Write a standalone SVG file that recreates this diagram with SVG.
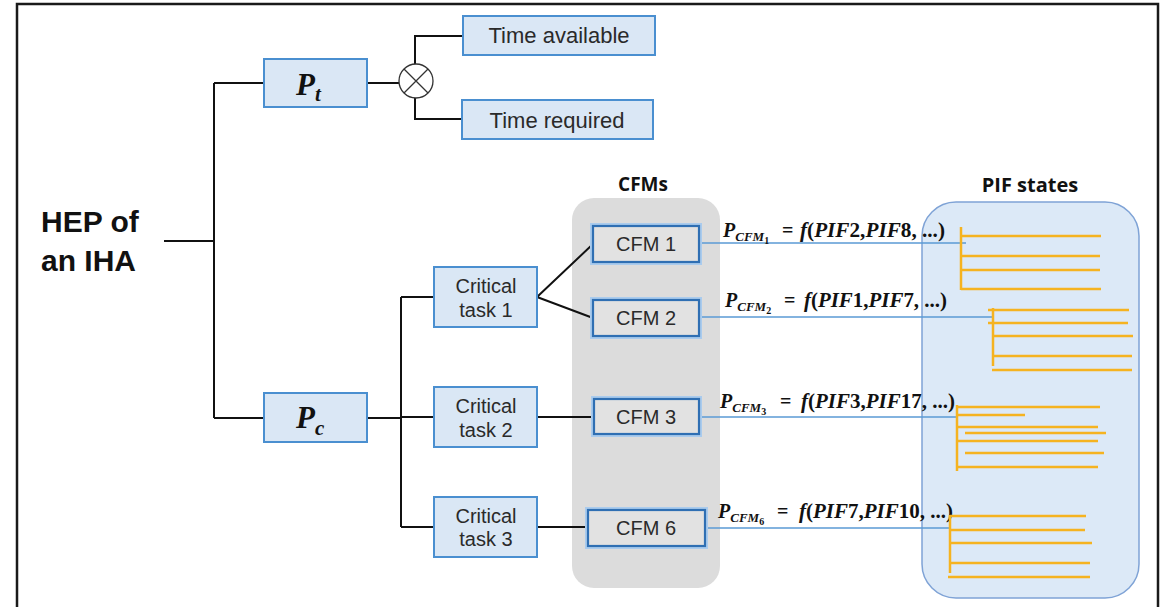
<svg xmlns="http://www.w3.org/2000/svg" width="1170" height="607" viewBox="0 0 1170 607">
  <style>
    .frame { fill: none; stroke: #1a1a1a; stroke-width: 2.5; }
    .wire { fill: none; stroke: #111; stroke-width: 2; }
    .blue-link { fill: none; stroke: #5b9bd5; stroke-width: 1.6; }
    .pif { fill: none; stroke: #f5b320; stroke-width: 2.5; }
    .box { fill: #dae7f5; stroke: #4a8fd0; stroke-width: 2; }
    .cfm-glow { fill: none; stroke: #aacbed; stroke-width: 6; }
    .cfm { fill: #e2e2e2; stroke: #2f6fb3; stroke-width: 2.2; }
    .lbl { font-family: "Liberation Sans", Arial, sans-serif; fill: #2a2a2a; text-anchor: middle; }
    .head { font-family: "Open Sans", "Liberation Sans", sans-serif; font-weight: 700; fill: #111; text-anchor: middle; }
    .math { font-family: "Liberation Serif", "DejaVu Serif", serif; font-weight: 700; fill: #111; }
    .it { font-style: italic; }
  </style>

  <rect width="1170" height="607" fill="#ffffff"/>
  <path class="frame" d="M17,612 V4 H1158 V612"/>

  <!-- panels -->
  <g id="cfm-panel">
    <rect x="572" y="198" width="148" height="390" rx="22" fill="#dcdcdc"/>
    <text class="head" x="643" y="191" font-size="19">CFMs</text>
  </g>
  <g id="pif-panel">
    <rect x="922" y="202" width="217" height="396" rx="34" fill="#dce9f7" stroke="#7fa3d6" stroke-width="1.5"/>
    <text class="head" x="1030" y="192" font-size="20">PIF states</text>
  </g>

  <!-- connectors -->
  <g id="connectors">
    <path class="wire" d="M164,241 H214 M214,83 V418 M214,83 H264 M214,418 H264"/>
    <path class="wire" d="M367,83 H399"/>
    <path class="wire" d="M415,64 V36 H463 M415,98 V119 H462"/>
    <path class="wire" d="M367,418 H401 M401,297 V527 M401,297 H434 M401,417 H434 M401,527 H434"/>
    <path class="wire" d="M537,297 L593,244 M537,297 L593,318 M537,417 H594 M537,527 H588"/>
    <path class="blue-link" d="M699,243 H966 M699,317 H992 M699,417 H957 M705,528 H950"/>
  </g>

  <!-- HEP root label -->
  <g id="hep">
    <text x="41" y="232" font-family="Liberation Sans, Arial, sans-serif" font-weight="700" font-size="30" fill="#111">HEP of</text>
    <text x="41" y="271" font-family="Liberation Sans, Arial, sans-serif" font-weight="700" font-size="30" fill="#111">an IHA</text>
  </g>

  <g id="p-t">
    <rect class="box" x="264" y="59" width="103" height="48"/>
    <text class="math it" x="296" y="95" font-size="31">P<tspan font-size="21" y="101">t</tspan></text>
  </g>

  <g id="multiply">
    <circle cx="416" cy="81" r="17" fill="#fff" stroke="#333" stroke-width="1.3"/>
    <path d="M404,69 L428,93 M428,69 L404,93" stroke="#333" stroke-width="1.3"/>
  </g>

  <g id="time-available">
    <rect class="box" x="463" y="16" width="192" height="39"/>
    <text class="lbl" x="559" y="43" font-size="22">Time available</text>
  </g>
  <g id="time-required">
    <rect class="box" x="462" y="100" width="191" height="39"/>
    <text class="lbl" x="557" y="128" font-size="22">Time required</text>
  </g>

  <g id="p-c">
    <rect class="box" x="264" y="393" width="103" height="49"/>
    <text class="math it" x="296" y="428" font-size="31">P<tspan font-size="21" y="435">c</tspan></text>
  </g>

  <g id="task-1">
    <rect class="box" x="434" y="267" width="103" height="60"/>
    <text class="lbl" x="486" y="293" font-size="20">Critical</text>
    <text class="lbl" x="486" y="317" font-size="20">task 1</text>
  </g>
  <g id="task-2">
    <rect class="box" x="434" y="387" width="103" height="60"/>
    <text class="lbl" x="486" y="413" font-size="20">Critical</text>
    <text class="lbl" x="486" y="437" font-size="20">task 2</text>
  </g>
  <g id="task-3">
    <rect class="box" x="434" y="497" width="103" height="60"/>
    <text class="lbl" x="486" y="523" font-size="20">Critical</text>
    <text class="lbl" x="486" y="546" font-size="20">task 3</text>
  </g>

  <g id="cfm-1">
    <rect class="cfm-glow" x="593" y="226" width="106" height="36"/>
    <rect class="cfm" x="593" y="226" width="106" height="36"/>
    <text class="lbl" x="646" y="251" font-size="20">CFM 1</text>
  </g>
  <g id="cfm-2">
    <rect class="cfm-glow" x="593" y="300" width="106" height="36"/>
    <rect class="cfm" x="593" y="300" width="106" height="36"/>
    <text class="lbl" x="646" y="325" font-size="20">CFM 2</text>
  </g>
  <g id="cfm-3">
    <rect class="cfm-glow" x="594" y="399" width="105" height="35"/>
    <rect class="cfm" x="594" y="399" width="105" height="35"/>
    <text class="lbl" x="646" y="424" font-size="20">CFM 3</text>
  </g>
  <g id="cfm-6">
    <rect class="cfm-glow" x="588" y="510" width="117" height="36"/>
    <rect class="cfm" x="588" y="510" width="117" height="36"/>
    <text class="lbl" x="646" y="535" font-size="20">CFM 6</text>
  </g>

  <!-- probability formulas -->
  <g id="formula-1">
    <text class="math" x="723" y="237" font-size="20"><tspan class="it">P</tspan><tspan class="it" font-size="13" y="241">CFM</tspan><tspan font-size="10" y="244">1</tspan></text>
    <text class="math" x="782" y="237" font-size="20">=</text>
    <text class="math" x="800" y="237" font-size="20" textLength="145" lengthAdjust="spacingAndGlyphs"><tspan class="it">f</tspan>(<tspan class="it">PIF</tspan>2,<tspan class="it">PIF</tspan>8, ...)</text>
  </g>
  <g id="formula-2">
    <text class="math" x="725" y="307" font-size="20"><tspan class="it">P</tspan><tspan class="it" font-size="13" y="311">CFM</tspan><tspan font-size="10" y="314">2</tspan></text>
    <text class="math" x="784" y="307" font-size="20">=</text>
    <text class="math" x="804" y="307" font-size="20" textLength="143" lengthAdjust="spacingAndGlyphs"><tspan class="it">f</tspan>(<tspan class="it">PIF</tspan>1,<tspan class="it">PIF</tspan>7, ...)</text>
  </g>
  <g id="formula-3">
    <text class="math" x="720" y="408" font-size="20"><tspan class="it">P</tspan><tspan class="it" font-size="13" y="412">CFM</tspan><tspan font-size="10" y="415">3</tspan></text>
    <text class="math" x="780" y="408" font-size="20">=</text>
    <text class="math" x="801" y="408" font-size="20" textLength="154" lengthAdjust="spacingAndGlyphs"><tspan class="it">f</tspan>(<tspan class="it">PIF</tspan>3,<tspan class="it">PIF</tspan>17, ...)</text>
  </g>
  <g id="formula-6">
    <text class="math" x="718" y="518" font-size="20"><tspan class="it">P</tspan><tspan class="it" font-size="13" y="522">CFM</tspan><tspan font-size="10" y="525">6</tspan></text>
    <text class="math" x="777" y="518" font-size="20">=</text>
    <text class="math" x="799" y="518" font-size="20" textLength="154" lengthAdjust="spacingAndGlyphs"><tspan class="it">f</tspan>(<tspan class="it">PIF</tspan>7,<tspan class="it">PIF</tspan>10, ...)</text>
  </g>

  <!-- PIF state branches -->
  <g id="pif-1">
    <path class="pif" d="M961,227 V290 M961,236 H1101 M961,256 H1100 M961,270 H1100 M961,289 H1101"/>
  </g>
  <g id="pif-2">
    <path class="pif" d="M993,308 V366 M988,310 H1129 M988,323 H1128 M993,336 H1133 M993,356 H1132 M992,370 H1132"/>
  </g>
  <g id="pif-3">
    <path class="pif" d="M957,405 V471 M957,407 H1100 M957,415 H1025 M957,427 H1098 M965,433 H1106 M957,441 H1098 M965,453 H1104 M957,467 H1098"/>
  </g>
  <g id="pif-6">
    <path class="pif" d="M950,515 V573 M950,516 H1086 M950,530 H1085 M950,543 H1092 M950,563 H1090 M948,577 H1090"/>
  </g>
</svg>
